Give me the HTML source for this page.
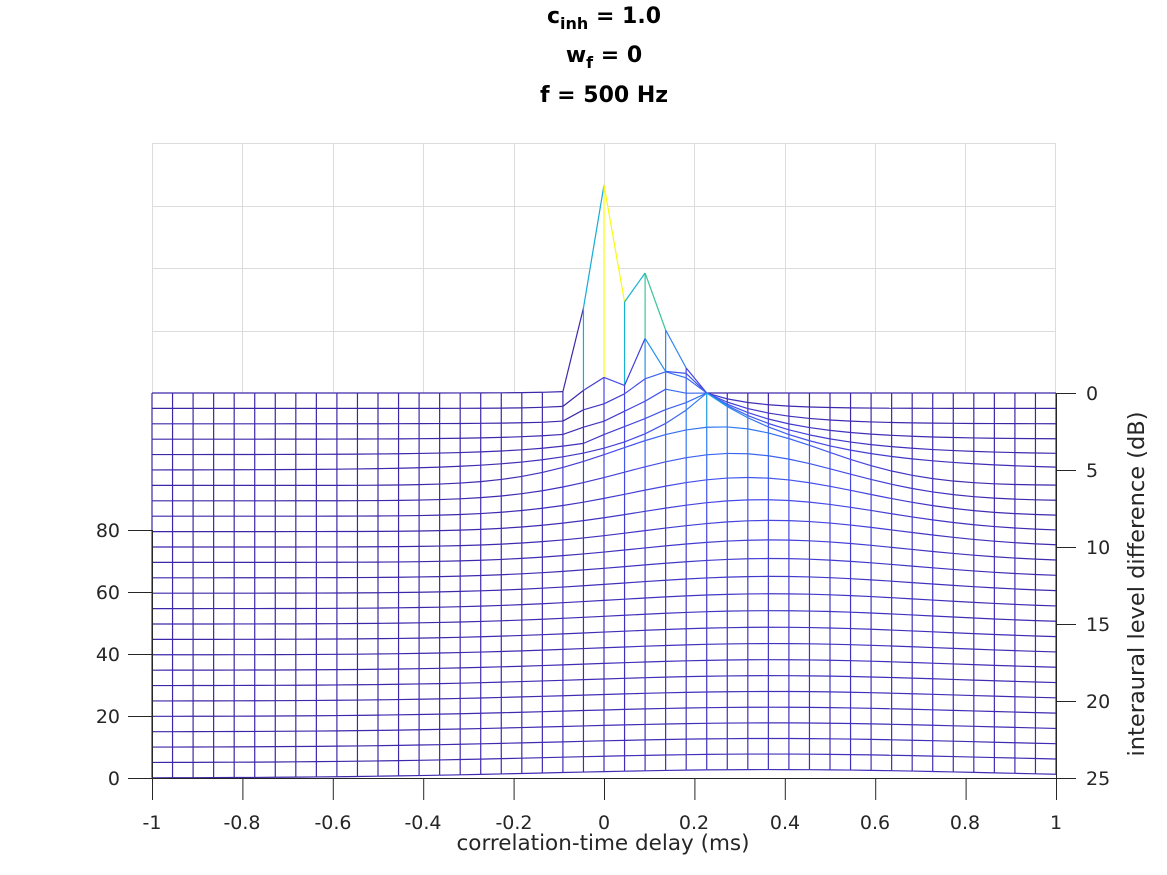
<!DOCTYPE html>
<html><head><meta charset="utf-8">
<style>
html,body{margin:0;padding:0;background:#fff;}
svg{display:block;font-family:"DejaVu Sans","Liberation Sans",sans-serif;}
</style></head>
<body>
<svg id="s" width="1167" height="875" viewBox="0 0 1167 875" xmlns="http://www.w3.org/2000/svg">
<rect width="1167" height="875" fill="#fff"/>
<g stroke="#dcdcdc" stroke-width="1" fill="none">
<line x1="152" y1="143.5" x2="1056" y2="143.5"/>
<line x1="152" y1="206.5" x2="1056" y2="206.5"/>
<line x1="152" y1="268.5" x2="1056" y2="268.5"/>
<line x1="152" y1="331.5" x2="1056" y2="331.5"/>
<line x1="152.5" y1="143" x2="152.5" y2="393"/>
<line x1="242.5" y1="143" x2="242.5" y2="393"/>
<line x1="333.5" y1="143" x2="333.5" y2="393"/>
<line x1="423.5" y1="143" x2="423.5" y2="393"/>
<line x1="514.5" y1="143" x2="514.5" y2="393"/>
<line x1="604.5" y1="143" x2="604.5" y2="393"/>
<line x1="694.5" y1="143" x2="694.5" y2="393"/>
<line x1="785.5" y1="143" x2="785.5" y2="393"/>
<line x1="875.5" y1="143" x2="875.5" y2="393"/>
<line x1="965.5" y1="143" x2="965.5" y2="393"/>
<line x1="1055.5" y1="143" x2="1055.5" y2="393"/>
</g>
<g id="mesh"></g>
<g stroke="#262626" stroke-width="1" fill="none">
<line x1="152.5" y1="530" x2="152.5" y2="778"/>
<line x1="128" y1="530.5" x2="152" y2="530.5"/>
<line x1="128" y1="592.5" x2="152" y2="592.5"/>
<line x1="128" y1="654.5" x2="152" y2="654.5"/>
<line x1="128" y1="716.5" x2="152" y2="716.5"/>
<line x1="128" y1="778.5" x2="152" y2="778.5"/>
<line x1="152" y1="778.5" x2="1056" y2="778.5"/>
<line x1="1056.5" y1="393" x2="1056.5" y2="778"/>
</g>
<g id="ticks" stroke="#262626" stroke-width="1"></g>
<g fill="#262626" font-size="19" text-anchor="end">
<text x="120" y="537">80</text>
<text x="120" y="599">60</text>
<text x="120" y="661">40</text>
<text x="120" y="723">20</text>
<text x="120" y="785">0</text>
</g>
<g fill="#262626" font-size="19" text-anchor="start">
<text x="1086" y="400">0</text>
<text x="1086" y="477">5</text>
<text x="1086" y="554">10</text>
<text x="1086" y="631">15</text>
<text x="1086" y="708">20</text>
<text x="1086" y="785">25</text>
</g>
<g fill="#262626" font-size="19" text-anchor="middle">
<text x="152" y="829">-1</text>
<text x="242" y="829">-0.8</text>
<text x="333" y="829">-0.6</text>
<text x="423" y="829">-0.4</text>
<text x="514" y="829">-0.2</text>
<text x="604" y="829">0</text>
<text x="694" y="829">0.2</text>
<text x="785" y="829">0.4</text>
<text x="875" y="829">0.6</text>
<text x="965" y="829">0.8</text>
<text x="1056" y="829">1</text>
<text x="603" y="850" font-size="21.5">correlation-time delay (ms)</text>
<text transform="translate(1144,584) rotate(-90)" font-size="22.5">interaural level difference (dB)</text>
</g>
<g fill="#000" font-size="22" font-weight="bold" text-anchor="middle">
<text x="604" y="23">c<tspan font-size="16" dy="6">inh</tspan><tspan dy="-6"> = 1.0</tspan></text>
<text x="604" y="62">w<tspan font-size="16" dy="6">f</tspan><tspan dy="-6"> = 0</tspan></text>
<text x="604" y="102">f = 500 Hz</text>
</g>
</svg>
<script>
(function(){
var NS="http://www.w3.org/2000/svg";
var t=document.getElementById('ticks');
function ln(g,x1,y1,x2,y2){var l=document.createElementNS(NS,'line');l.setAttribute('x1',x1);l.setAttribute('y1',y1);l.setAttribute('x2',x2);l.setAttribute('y2',y2);g.appendChild(l);}
for(var i=0;i<=10;i++){var x=152+i*90.4;ln(t,x+0.5,778,x+0.5,800);}
for(var k=0;k<=5;k++){var y=393+k*77;ln(t,1056,y+0.5,1076,y+0.5);}
var NC=45,NR=26,x0=152,dx=904/44,y0=393,dy=15.4;
var spike={0:{"-1":85,"0":208,"1":91,"2":120,"3":63,"4":25},
 1:{"-1":18,"0":31,"1":23,"2":70,"3":37,"4":35},
 2:{"-1":14,"0":20,"1":30,"2":45,"3":52,"4":46},
 3:{"-1":12,"0":18,"1":28,"2":38,"3":50,"4":46},
 4:{"0":20,"1":28,"2":36,"3":45,"4":52}};
function H(r,c){
 var x=-1+c*2/44,h;
 if(r<=5){
  var L=15.4*r, m=0.227, d=x-m;
  if(d>=0) h=L*Math.exp(-d/(0.06+0.035*r));
  else h=L*Math.exp(-(-d)/(0.08+0.02*r));
  if(x<=0) h=Math.max(h,(5+2.5*r)*Math.exp(x/0.07));
 } else {
  var L=65*Math.exp(-(r-5)/4)+8, m=Math.min(0.37,0.227+(r-5)*0.03);
  var s=0.2+0.02*r, d=x-m;
  h=L*Math.exp(-(d*d)/(s*s));
 }
 var sp=spike[r];var ci=c-22;
 if(sp&&sp[ci]!=null)h=Math.max(h,sp[ci]);
 return h;}
var stops=[[0,[62,38,168]],[0.15,[70,75,235]],[0.3,[45,130,245]],[0.42,[20,175,215]],[0.55,[40,195,170]],[0.68,[130,200,90]],[0.82,[240,185,60]],[1,[249,251,14]]];
function col(v){v=Math.max(0,Math.min(1,v));for(var i=1;i<stops.length;i++){if(v<=stops[i][0]){var a=stops[i-1],b=stops[i],f=(v-a[0])/(b[0]-a[0]);return 'rgb('+[0,1,2].map(function(k){return Math.round(a[1][k]+f*(b[1][k]-a[1][k]));}).join(',')+')';}}return 'rgb(249,251,14)';}
var P=[],Hh=[];
for(var r=0;r<NR;r++){P[r]=[];Hh[r]=[];for(var c=0;c<NC;c++){var h=H(r,c);Hh[r][c]=h;P[r][c]=[x0+c*dx,y0+r*dy-h];}}
var g=document.getElementById('mesh');
for(var r=0;r<NR;r++){
 for(var c=0;c<NC-1;c++){
  if(r<NR-1){var p=document.createElementNS(NS,'polygon');
   p.setAttribute('points',[P[r][c],P[r][c+1],P[r+1][c+1],P[r+1][c]].map(function(q){return q[0].toFixed(1)+','+q[1].toFixed(1);}).join(' '));
   p.setAttribute('fill','#fff');g.appendChild(p);}
 }
 for(var c=0;c<NC;c++){
  var cl=col(Hh[r][c]/208);
  if(c<NC-1){var l=document.createElementNS(NS,'line');l.setAttribute('x1',P[r][c][0]);l.setAttribute('y1',P[r][c][1]);l.setAttribute('x2',P[r][c+1][0]);l.setAttribute('y2',P[r][c+1][1]);l.setAttribute('stroke',cl);l.setAttribute('stroke-width','1.2');g.appendChild(l);}
  if(r<NR-1){var l=document.createElementNS(NS,'line');l.setAttribute('x1',P[r][c][0]);l.setAttribute('y1',P[r][c][1]);l.setAttribute('x2',P[r+1][c][0]);l.setAttribute('y2',P[r+1][c][1]);l.setAttribute('stroke',cl);l.setAttribute('stroke-width','1.2');g.appendChild(l);}
 }
}
})();
</script>
</body></html>
